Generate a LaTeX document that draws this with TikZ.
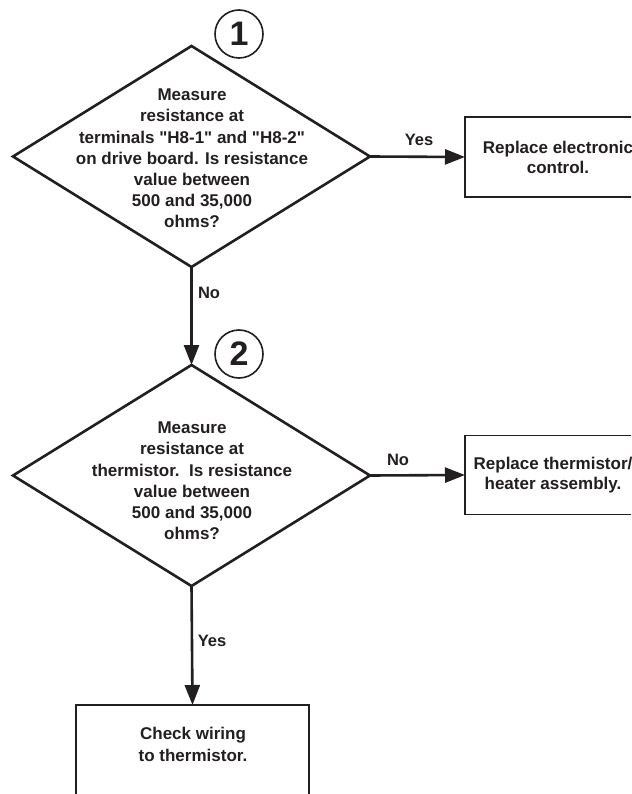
\documentclass[tikz,border=0pt]{standalone}
\usepackage{fontspec}
\setmainfont{Liberation Sans}[Ligatures=TeXOff]
\usetikzlibrary{shapes.geometric,arrows.meta}
\definecolor{ink}{HTML}{231F20}
\begin{document}
\begin{tikzpicture}[x=1pt,y=-1pt,
  decision/.style={draw=ink, line width=2.6pt, shape=diamond, inner sep=0pt, outer sep=0pt,
    minimum width=357pt, minimum height=221pt},
  qtext/.style={text=ink, font=\fontsize{17}{21.2}\selectfont\bfseries, align=center, inner sep=0pt},
  action/.style={draw=ink, line width=1.8pt, rectangle, inner sep=0pt, outer sep=0pt,
    text=ink, font=\fontsize{17}{20}\selectfont\bfseries, align=center},
  stepnum/.style={draw=ink, line width=1.6pt, circle, minimum size=48pt, inner sep=0pt,
    text=ink, font=\fontsize{34}{34}\selectfont\bfseries},
  conn/.style={draw=ink, line width=2.6pt, -{Triangle[length=20pt,width=15pt]}},
  lbl/.style={text=ink, font=\fontsize{16.5}{20}\selectfont\bfseries, inner sep=0pt}
]
\clip (0,0) rectangle (631,794);
\fill[white] (0,0) rectangle (631,794);

% decisions
\node[decision] (d1) at (191.5,156.5) {};
\node[qtext] (t1) at (192,158.5) {Measure\\resistance at\\terminals "H8-1" and "H8-2"\\on drive board. Is resistance\\value between\\500 and 35,000\\ohms?};
\node[stepnum] (c1) at (239,34) {1};

\node[decision] (d2) at (191.5,475.5) {};
\node[qtext] (t2) at (192,481) {Measure\\resistance at\\thermistor.\ \ Is resistance\\value between\\500 and 35,000\\ohms?};
\node[stepnum] (c2) at (239,354) {2};

% actions
\node[action, anchor=west, minimum width=186pt, minimum height=80pt] (a1) at (465,157) {Replace electronic\\control.};
\node[action, anchor=west, minimum width=176pt, minimum height=79pt] (a2) at (465,475) {Replace thermistor/\\heater assembly.};
\node[action, anchor=north, minimum width=233pt, minimum height=120pt] (a3) at (192.5,705) {};
\node[qtext, font=\fontsize{17}{22}\selectfont\bfseries] (t3) at (193,744) {Check wiring\\to thermistor.};

% connectors
\draw[conn] (d1.east) -- (a1.west);
\draw[conn] (d1.south) -- (d2.north);
\draw[conn] (d2.east) -- (a2.west);
\draw[conn] (d2.south) -- (a3.north);

% labels
\node[lbl] (l1) at (419,140) {Yes};
\node[lbl] (l2) at (209,293) {No};
\node[lbl] (l3) at (398,460) {No};
\node[lbl] (l4) at (212,641) {Yes};
\end{tikzpicture}
\end{document}
